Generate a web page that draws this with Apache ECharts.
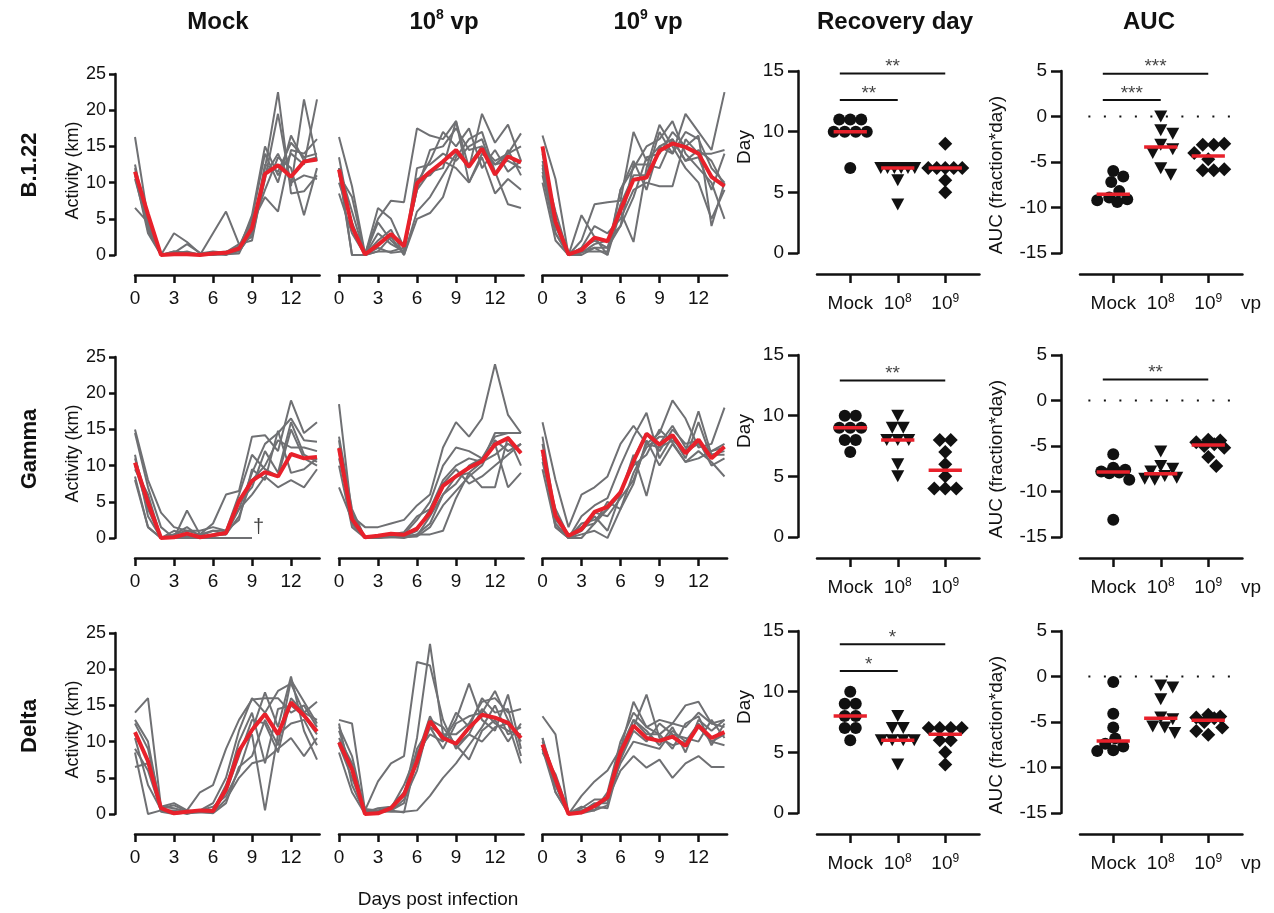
<!DOCTYPE html>
<html><head><meta charset="utf-8">
<script src="https://cdn.jsdelivr.net/npm/echarts@6/dist/echarts.min.js"></script>
<style>html,body{margin:0;padding:0;background:#fff}#c{width:1274px;height:913px}</style>
</head><body><div id="c"></div>
<script>
// ---------------- DATA ----------------
const days = [0,1,2,3,4,5,6,7,8,9,10,11,12,13,14];
const dayTicks = [0,3,6,9,12];
const variants = ['B.1.22','Gamma','Delta'];
const groupLabels = ['Mock','10^8','10^9'];

// Activity (km) per animal — B.1.22
const act_b122_mock = [
 [16.3,5,0,0.2,0.5,0,0.3,0.2,0.5,3,12,22.5,8.5,8.8,11],
 [12.5,4,0,3,1.8,0.2,0.5,0.3,1.2,5,14,10,16.5,13,13.5],
 [12,3.5,0,0.5,0.2,0,3,6,1.5,2.5,10.5,19.5,9.5,21.5,13],
 [11.5,4,0,0.3,1.5,0.3,0.2,0,0.8,5.5,15,11,14,12.5,21.5],
 [6.5,4.5,0,0,0,0,0.3,0.5,0.8,4.5,8,6,14.5,14,16],
 [11,3,0,0.2,0.2,0,0,0.1,0.2,4,9,13.5,12,5.5,12],
 [11.5,3.5,0,0.5,0.3,0.1,0.3,0.4,1.5,2,11,14,10,11,10.5],
 [10.5,4,0,0.1,0,0,0.1,0.2,0.5,3,12.5,11.5,15.5,13.5,14]];
const mean_b122_mock = [11.5,5.6,0,0.1,0.1,0,0.2,0.3,0.9,3.7,11.2,12.4,10.8,12.9,13.2];
const act_b122_1e8 = [
 [16.3,9.5,0.2,5,7.5,7.3,17.5,16.5,16,18.5,12,19.5,15.5,18,13],
 [13.5,4,0,6.5,5,1,9,14.5,15,17.5,14.5,15,13,14,16.8],
 [12,0,0,3,1.5,0.5,10.5,11,13,12,10,13.5,8.5,10.5,9],
 [11,8,0,2,3.5,0,5,5.8,8,13.5,16,17,11.5,7,6.5],
 [8.5,3,0,4.5,2,0.3,10,13,17,15,17.5,12,14.5,11.5,13],
 [11.5,0,0,0.5,0.5,1,9,11.5,12,18.5,10,14,12.5,13,12],
 [12,6,0,1,0.3,0.5,12,12.5,14,13,15,16,11,14.5,11],
 [10,4.5,0,0.5,2.5,0,6,8,11,14,12.5,15,12.5,14,15]];
const mean_b122_1e8 = [11.8,3.9,0.1,1.4,2.9,1.2,9.9,11.5,12.9,14.5,12.2,14.7,11.1,13.6,12.8];
const act_b122_1e9 = [
 [16.5,10.5,0,2,7,7.3,7.5,17,13,15,14,19.5,17,14.5,22.5],
 [12,5,0,5.5,2.5,0,6,1.8,12,18,15,12,10,5,9],
 [11,3,0,1,4,3,5,9,10,9.5,9.5,16,14,14,14.5],
 [10,2,0,0.5,1,0,9,12,15,16,18.5,14,12,10,5],
 [14,4,0,0.3,1.5,2,4,8,13.5,14,17,15,16.5,4,10],
 [13,6,0,0.5,0.5,0.5,9,13,9,15,16,13,14.5,13,9.5],
 [12.5,3,0,0,1,1,7,11,11,17,14,17,16,12,10],
 [11.5,4,0,1,2,1,4,12.5,12.5,12,16,13,13.5,9,14]];
const mean_b122_1e9 = [15.0,4.6,0.1,0.7,2.4,1.9,6.2,10.4,10.7,14.4,15.4,14.9,14.0,10.8,9.5];

// Gamma
const act_gamma_mock = [
 [15,8,3.5,1.5,1,0.5,2,6,6.5,14,14.2,12,19,14.5,16],
 [14.5,7,1.5,0,3.8,0.5,1,1,4,9,13,14.5,16.5,13.5,13.3],
 [11.5,3,0,0.5,1,1,1.5,1,6,11.5,9.5,8.5,15,11,10],
 [8.5,1.5,0,1,0.5,0,0.5,0.5,4,6,8.5,7,8,7,9.5],
 [11,5,0,0.5,1.5,0.2,0.3,0.5,3,8,10,13.5,12.5,12.5,12],
 [10,4,0,0.3,0.5,0.3,1,0.5,5,7,12,9,16,11.5,10.5],
 [9.5,6,0,0.2,0.2,0.1,0.2,1,2.5,9.5,8,14.8,9,9.5,11],
 [8,1.5,0,0,0,0,0,0,0,0,null,null,null,null,null]];
const mean_gamma_mock = [10.4,4.9,0,0.1,0.6,0.1,0.4,0.7,5.1,7.9,9.1,8.5,11.6,11.0,11.2];
const act_gamma_1e8 = [
 [18.5,3,1.5,1.5,2,2.5,4.5,6,12.5,16,14,16.5,24,17,14.5],
 [14,4,0,0.2,0.5,0.8,3,4,8,10,11,10.5,14.5,14.5,14.5],
 [12,2,0,0,0.3,0.5,2.5,5,10,12.5,12,11,13,7,9],
 [11,3.5,0,0.1,0.1,0,0.5,0.5,1,5.5,9,7,7,14,10],
 [7,2.5,0,0.3,0.4,0.2,1,4,7.5,9.5,7.5,8.5,10,11.5,13],
 [13.5,2,0,0,0.1,0.2,0.5,2,6,7.5,10,11,14,14.5,14.5],
 [10,1.5,0,0.2,0.3,0.2,0.3,3,6,8.5,9,10.5,11.5,13,12],
 [12.5,2.5,0,0.1,0.2,0.1,0.2,1.5,4.5,6.5,8.5,10,13.5,12,13]];
const mean_gamma_1e8 = [12.4,2.6,0.1,0.3,0.6,0.45,1.3,3.5,7.2,8.5,9.7,10.6,12.9,13.8,11.7];
const act_gamma_1e9 = [
 [16,8,1.5,6,7,8.5,13,15.5,13,14.5,19,16.5,12.5,13,18],
 [14,3,0,3,4.5,5.5,10,14,17.3,11,14,12,17.5,11.5,12],
 [11.5,1.5,0,2,2.5,4,6,11,14.5,12,15,13,13.5,10,11],
 [9.5,1.5,0,0.5,1,0,4,7.5,13.5,10,13,10.5,12,10.5,8.5],
 [12,2.5,0.5,1,3,1,6,11.5,5.8,13,15.5,12.5,13,12,12.5],
 [13,2,0,0,2,5,4,9,12.5,14,14,11,16,11,12.5],
 [10.5,3,0,1,3.5,3,5.5,8,13,12.5,13.5,12,13,11.5,11.5],
 [11,4,0.3,1.5,2,4,6.5,10,11.5,15,13.2,10.5,11,12,13]];
const mean_gamma_1e9 = [12.2,3.1,0.3,1.2,3.6,4.3,6.3,10.6,14.4,12.9,14.2,11.7,13.6,11.0,12.6];

// Delta
const act_delta_mock = [
 [14,16,1,1.5,0.5,3,4,9,13,15.8,16,16,14,15,12],
 [13,10,0.5,0.5,0,0.5,1.5,5,11.5,16,14,17,18,14,15.5],
 [8.5,0,0.5,0.3,0.5,0.3,0.5,4,9,11,0.5,11,12.5,13,9.5],
 [6.5,7,0.3,0,0.2,0.5,1,2.5,6,11.5,16.8,12,19,11.5,7.5],
 [11,7.5,0.8,1.2,0.4,0.3,0.2,2,5,7,7.5,9,10.5,8,10.5],
 [12.5,9,1,0.8,0.3,0.4,0.3,3,8,13,12.5,8.5,16,14,13],
 [9,6,0.5,0.2,0.1,0.2,0.2,3.5,10,14,7,14.5,15,13.5,11],
 [10.5,4,0.6,0.1,0.4,0.3,0.1,1.5,6.5,8,13,9.5,18.5,15.5,12.5]];
const mean_delta_mock = [11.3,7.3,0.8,0.1,0.3,0.5,0.4,3.4,8.7,11.6,13.8,11.0,15.4,13.6,11.4];
const act_delta_1e8 = [
 [13,12.5,0.5,4.5,7,8,21,20.5,13,9,11,10,12,12.5,7],
 [12,8,0.3,0.5,1,2.5,10.5,23.5,11,11,12.5,15.5,16,14,14.5],
 [8.5,3,0,0.2,0.5,0.2,8,13.5,10,13,18,13,11.5,16.5,9],
 [10.5,7,0.7,0.5,0.3,0.3,0.5,2.5,5,7,9.5,12,15,11,12],
 [11.5,6,0.2,0.8,1,3,7,12,9,12.5,13.5,14,17,13,10],
 [9.5,5,0.3,0.3,0.5,1.5,9,12,11,9.5,7.5,11.5,13,10,12.5],
 [12.5,4,0.1,0.1,0.8,4,8.5,11,10,14,12,16,14,14.5,8],
 [10,6.5,0.5,0.2,0.4,2,6,13,12,9.5,11,14.5,12.5,11.5,11]];
const mean_delta_1e8 = [9.9,6.2,0,0.1,0.8,2.7,7.3,12.8,10.5,9.7,11.9,13.7,13.3,12.6,10.5];
const act_delta_1e9 = [
 [13.5,11,0,2.5,4.5,6,9,15.5,12,13,12.5,15,15.5,12.5,13],
 [10.5,3,0,0.5,1,2,6,8,6.4,7.5,5,7,8,6.5,6.5],
 [9,4,0,0.3,1.5,1.5,8,12,16.5,10.5,9.5,10,12.5,10,9.5],
 [10,5,0.2,0.5,0.5,1.2,9,13,11,11,12.5,12,14,12.5,12],
 [9.5,4,0,0.2,1,0.8,7.5,11.5,10,12.5,11,10.5,10,13,10.5],
 [8.5,5.5,0.3,0.1,0.5,3,10,14,12,11,9,12.5,13.5,9.5,12.5],
 [10.5,4.5,0,0.8,2,2,8,13,11.5,9.5,12,8.5,13,11.5,13],
 [9,3,0.1,1,0.5,2.5,7,10,9.5,9,11.5,10,12,10,11]];
const mean_delta_1e9 = [9.6,4.8,0,0.2,1.1,2.3,8.5,12.2,10.5,10.1,10.7,9.4,12.2,10.5,11.3];

// Recovery day
const rec_b122_mock = [11,11,11,10,10,10,10,7];
const rec_b122_1e8 = [7,7,7,7,7,7,6,4];
const rec_b122_1e9 = [9,7,7,7,7,7,6,5];
const rec_b122_median = [10,7,7];
const rec_gamma_mock = [10,10,9,9,9,8,8,7];
const rec_gamma_1e8 = [10,9,9,8,8,8,6,5];
const rec_gamma_1e9 = [8,8,7,6,5,4,4,4];
const rec_gamma_median = [9,8,5.5];
const rec_delta_mock = [10,9,9,8,8,7,7,6];
const rec_delta_1e8 = [8,7,7,6,6,6,6,4];
const rec_delta_1e9 = [7,7,7,7,6,6,5,4];
const rec_delta_median = [8,6,6.5];

// AUC (fraction*day)
const auc_b122_mock = [-6.0,-6.6,-7.2,-8.2,-8.9,-9.1,-9.2,-9.4];
const auc_b122_1e8 = [0,-1.5,-1.9,-3.1,-3.6,-4.0,-5.7,-6.4];
const auc_b122_1e9 = [-3.0,-3.1,-3.1,-4.0,-4.7,-5.8,-5.9,-5.9];
const auc_b122_median = [-8.55,-3.35,-4.35];
const auc_gamma_mock = [-5.9,-7.4,-7.6,-7.8,-7.9,-8.0,-8.7,-13.1];
const auc_gamma_1e8 = [-5.6,-7.2,-7.5,-7.8,-8.3,-8.5,-8.6,-8.7];
const auc_gamma_1e9 = [-4.3,-4.4,-4.6,-4.8,-5.0,-5.2,-6.2,-7.2];
const auc_gamma_median = [-7.85,-8.05,-4.9];
const auc_delta_mock = [-0.6,-4.1,-5.6,-6.8,-7.4,-7.7,-8.1,-8.2];
const auc_delta_1e8 = [-1.0,-1.2,-2.5,-4.5,-4.7,-5.5,-5.6,-6.2];
const auc_delta_1e9 = [-4.2,-4.4,-4.5,-4.6,-5.0,-5.6,-6.0,-6.4];
const auc_delta_median = [-7.1,-4.6,-4.8];

// Significance: [fromGroup, toGroup, level, stars]
const sig_rec_b122 = [[0,2,14.8,'**'],[0,1,12.6,'**']];
const sig_auc_b122 = [[0,2,4.7,'***'],[0,1,1.8,'***']];
const sig_rec_gamma = [[0,2,12.9,'**']];
const sig_auc_gamma = [[0,2,2.3,'**']];
const sig_rec_delta = [[0,2,13.9,'*'],[0,1,11.7,'*']];
const sig_auc_delta = [];

// ---------------- ASSEMBLY ----------------
const activity = [[act_b122_mock,act_b122_1e8,act_b122_1e9],[act_gamma_mock,act_gamma_1e8,act_gamma_1e9],[act_delta_mock,act_delta_1e8,act_delta_1e9]];
const means = [[mean_b122_mock,mean_b122_1e8,mean_b122_1e9],[mean_gamma_mock,mean_gamma_1e8,mean_gamma_1e9],[mean_delta_mock,mean_delta_1e8,mean_delta_1e9]];
const recovery = [[rec_b122_mock,rec_b122_1e8,rec_b122_1e9],[rec_gamma_mock,rec_gamma_1e8,rec_gamma_1e9],[rec_delta_mock,rec_delta_1e8,rec_delta_1e9]];
const recMed = [rec_b122_median,rec_gamma_median,rec_delta_median];
const auc = [[auc_b122_mock,auc_b122_1e8,auc_b122_1e9],[auc_gamma_mock,auc_gamma_1e8,auc_gamma_1e9],[auc_delta_mock,auc_delta_1e8,auc_delta_1e9]];
const aucMed = [auc_b122_median,auc_gamma_median,auc_delta_median];
const recSig = [sig_rec_b122,sig_rec_gamma,sig_rec_delta];
const aucSig = [sig_auc_b122,sig_auc_gamma,sig_auc_delta];

const FONT = '"Liberation Sans", Arial, Helvetica, sans-serif';
const GRAY = '#6f7073', RED = '#e8212b', BLACK = '#111111';
const lineLeft = [135, 339, 542.5], lineTop = [74, 357, 633], lineH = 181, dayPx = 13, dayMax = 14.2;
const dotLeft = [817, 1080], dotTop = [71, 355, 631], dotH = 182, catPx = 47.5, catMin = -0.7, catMax = 2.72;

const grids = [], xAxes = [], yAxes = [], series = [];
const axisLineStyle = {color: BLACK, width: 2.5};
const labelBase = {color: BLACK, fontFamily: FONT};
const supRich = {
  m: {fontSize: 19, fontFamily: FONT, color: BLACK, lineHeight: 22},
  s: {fontSize: 12, fontFamily: FONT, color: BLACK, lineHeight: 11, verticalAlign: 'top'}
};

function swarm(vals, pxPerUnit, maxSpan, D, maxOff) {
  const map = new Map();
  vals.forEach((v, i) => { const k = v.toFixed(3); if (!map.has(k)) map.set(k, []); map.get(k).push(i); });
  const keys = [...map.keys()].sort((a, b) => map.get(b).length - map.get(a).length || (+b) - (+a));
  const off = new Array(vals.length).fill(0), placed = [];
  const cands = [0];
  for (let t = 2; t <= maxOff; t += 2) cands.push(t, -t);
  for (const k of keys) {
    const ids = map.get(k), n = ids.length, y = (+k) * pxPerUnit;
    if (n > 1) {
      const s = Math.min(D, maxSpan / (n - 1));
      ids.forEach((id, j) => { off[id] = (j - (n - 1) / 2) * s; placed.push([off[id], y]); });
    } else {
      let best = 0, bestD = -1;
      for (const c of cands) {
        const md = placed.length ? Math.min(...placed.map(p => Math.hypot(p[0] - c, p[1] - y))) : Infinity;
        if (md >= D) { best = c; break; }
        if (md > bestD) { bestD = md; best = c; }
      }
      off[ids[0]] = best; placed.push([best, y]);
    }
  }
  return off;
}

// Line panels
for (let r = 0; r < 3; r++) {
  for (let c = 0; c < 3; c++) {
    const gi = grids.length;
    grids.push({left: lineLeft[c], top: lineTop[r], width: dayMax * dayPx, height: lineH});
    xAxes.push({gridIndex: gi, type: 'value', min: 0, max: dayMax, offset: 20,
      axisLine: {show: true, onZero: false, lineStyle: axisLineStyle},
      axisTick: {show: true, length: 8, lineStyle: axisLineStyle, customValues: dayTicks},
      axisLabel: Object.assign({customValues: dayTicks, fontSize: 19, margin: 14}, labelBase),
      splitLine: {show: false}});
    yAxes.push({gridIndex: gi, type: 'value', min: 0, max: 25, interval: 5, offset: 20, show: c === 0,
      axisLine: {show: true, onZero: false, lineStyle: axisLineStyle},
      axisTick: {show: true, length: 6, lineStyle: axisLineStyle},
      axisLabel: Object.assign({fontSize: 18, margin: 9}, labelBase),
      splitLine: {show: false},
      name: 'Activity (km)', nameLocation: 'middle', nameGap: 28,
      nameTextStyle: {fontSize: 18, color: BLACK, fontFamily: FONT, padding: [0, 12, 0, 0]}});
    activity[r][c].forEach(arr => {
      series.push({type: 'line', xAxisIndex: gi, yAxisIndex: gi, symbol: 'none', silent: true, z: 2,
        lineStyle: {color: GRAY, width: 2}, data: days.map((d, i) => [d, arr[i]])});
    });
    series.push({type: 'line', xAxisIndex: gi, yAxisIndex: gi, symbol: 'none', silent: true, z: 4,
      lineStyle: {color: RED, width: 4}, data: days.map((d, i) => [d, means[r][c][i]])});
    // dagger for the animal that died
    activity[r][c].forEach(arr => {
      const last = arr.reduce((a, v, i) => v != null ? i : a, -1);
      if (last < days.length - 1) {
        series.push({type: 'scatter', xAxisIndex: gi, yAxisIndex: gi, symbolSize: 0, silent: true,
          data: [[days[last], arr[last]]],
          label: {show: true, formatter: '\u2020', position: [1, -21], fontSize: 20, color: BLACK, fontFamily: FONT}});
      }
    });
  }
  // Dot panels
  [[recovery, recMed, recSig, 0, 15, 'Day', 44, [0, 0, 0, 30]],
   [auc, aucMed, aucSig, -15, 5, 'AUC (fraction*day)', 55, [0, 26, 0, 0]]].forEach((cfg, k) => {
    const [vals, meds, sigs, ymin, ymax, yname, ngap, npad] = cfg;
    const gi = grids.length;
    const pxU = dotH / (ymax - ymin);
    grids.push({left: dotLeft[k], top: dotTop[r], width: (catMax - catMin) * catPx, height: dotH});
    xAxes.push({gridIndex: gi, type: 'value', min: catMin, max: catMax, offset: 21,
      axisLine: {show: true, onZero: false, lineStyle: axisLineStyle},
      axisTick: {show: true, length: 9, lineStyle: axisLineStyle, customValues: [0, 1, 2]},
      axisLabel: {customValues: [0, 1, 2], margin: 19, rich: supRich,
        formatter: v => { const g = groupLabels[Math.round(v)]; if (!g) return ''; const p = g.split('^'); return p.length > 1 ? '{m|' + p[0] + '}{s|' + p[1] + '}' : '{m|' + g + '}'; }},
      splitLine: {show: false}});
    yAxes.push({gridIndex: gi, type: 'value', min: ymin, max: ymax, interval: 5, offset: 19,
      axisLine: {show: true, onZero: false, lineStyle: axisLineStyle},
      axisTick: {show: true, length: 10, lineStyle: axisLineStyle},
      axisLabel: Object.assign({fontSize: 19, margin: 14}, labelBase),
      splitLine: {show: false},
      name: yname, nameLocation: 'middle', nameGap: ngap,
      nameTextStyle: {fontSize: 19, color: BLACK, fontFamily: FONT, padding: npad}});
    if (k === 1) {
      series.push({type: 'line', xAxisIndex: gi, yAxisIndex: gi, symbol: 'none', silent: true, clip: false, z: 1,
        lineStyle: {color: BLACK, width: 2.2, type: [2, 13.5]}, data: [[catMin - 0.15, 0], [catMax - 0.1, 0]]});
    }
    const syms = ['circle', 'triangle', 'diamond'], sizes = [12, [13, 12], 14];
    vals[r].forEach((arr, g) => {
      const off = swarm(arr, pxU, 34, 11, 17);
      series.push({type: 'scatter', xAxisIndex: gi, yAxisIndex: gi, silent: true, z: 3,
        symbol: syms[g], symbolSize: sizes[g], symbolRotate: g === 1 ? 180 : 0,
        itemStyle: {color: BLACK, opacity: 1},
        data: arr.map((v, i) => [g + off[i] / catPx, v])});
      series.push({type: 'line', xAxisIndex: gi, yAxisIndex: gi, symbol: 'none', silent: true, z: 5,
        lineStyle: {color: RED, width: 3.5}, data: [[g - 0.35, meds[r][g]], [g + 0.35, meds[r][g]]]});
    });
    sigs[r].forEach(s => {
      const x1 = s[0] - 0.22, x2 = s[1];
      series.push({type: 'line', xAxisIndex: gi, yAxisIndex: gi, symbol: 'none', silent: true, z: 3,
        lineStyle: {color: BLACK, width: 2}, data: [[x1, s[2]], [x2, s[2]]]});
      series.push({type: 'scatter', xAxisIndex: gi, yAxisIndex: gi, symbolSize: 0, silent: true,
        data: [[(x1 + x2) / 2, s[2]]],
        label: {show: true, formatter: s[3], position: 'top', distance: 1, offset: [0, 4], fontSize: 19, color: BLACK, fontFamily: FONT}});
    });
  });
}

// Texts
const titleRich = {
  b: {fontSize: 24, fontWeight: 'bold', fontFamily: FONT, fill: BLACK, color: BLACK, lineHeight: 27},
  s: {fontSize: 14, fontWeight: 'bold', fontFamily: FONT, fill: BLACK, color: BLACK, lineHeight: 13, verticalAlign: 'top'}
};
const titles = [['{b|Mock}', 218], ['{b|10}{s|8}{b| vp}', 444], ['{b|10}{s|9}{b| vp}', 648], ['{b|Recovery day}', 895], ['{b|AUC}', 1149]];
const graphic = [];
titles.forEach(t => graphic.push({type: 'text', x: t[1], y: 22, style: {text: t[0], rich: titleRich, align: 'center', verticalAlign: 'middle'}}));
const rowY = [165, 449, 726];
variants.forEach((v, r) => graphic.push({type: 'text', x: 30, y: rowY[r], rotation: Math.PI / 2,
  style: {text: v, font: 'bold 22px ' + FONT, fill: BLACK, align: 'center', verticalAlign: 'middle'}}));
dotTop.forEach(t => graphic.push({type: 'text', x: 1251, y: t + 233, style: {text: 'vp', font: '19px ' + FONT, fill: BLACK, align: 'center', verticalAlign: 'middle'}}));
graphic.push({type: 'text', x: 438, y: 900, style: {text: 'Days post infection', font: '19px ' + FONT, fill: BLACK, align: 'center', verticalAlign: 'middle'}});

const chart = echarts.init(document.getElementById('c'), null, {renderer: 'canvas'});
chart.setOption({animation: false, backgroundColor: '#fff', grid: grids, xAxis: xAxes, yAxis: yAxes, series, graphic});
</script></body></html>
